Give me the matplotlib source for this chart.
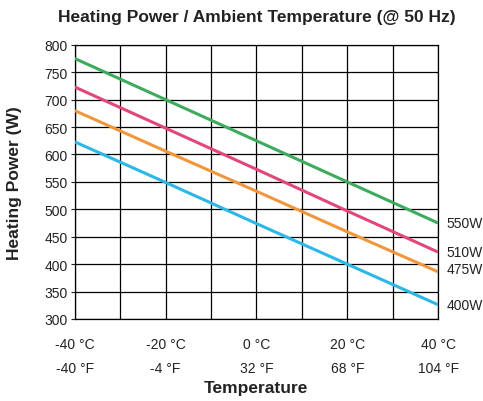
import matplotlib.pyplot as plt

plt.rcParams['font.family'] = ['Liberation Sans Narrow', 'Liberation Sans', 'DejaVu Sans']

# temperature in deg C and heating power (W) per heater model
temps = [-40, -20, 0, 20, 40]
p550 = [775, 700, 625, 550, 475]
p510 = [723, 648, 573, 497, 422]
p475 = [680, 606, 533, 459, 386]
p400 = [623, 549, 474, 400, 326]

series = [('550W', p550, '#3cab5e', 0),
          ('510W', p510, '#e2467c', 0),
          ('475W', p475, '#f2963c', 2),
          ('400W', p400, '#2bb7e8', 0)]

tick_c = [-40, -20, 0, 20, 40]
tick_labels = ['-40 °C\n-40 °F', '-20 °C\n-4 °F', '0 °C\n32 °F', '20 °C\n68 °F', '40 °C\n104 °F']

fig = plt.figure(figsize=(4.83, 4.02), dpi=100)
ax = fig.add_axes([0.155, 0.204, 0.752, 0.682])

for name, vals, col, dy in series:
    ax.plot(temps, vals, color=col, linewidth=2.2, solid_capstyle='butt', zorder=3)
    ax.annotate(name, xy=(temps[-1], vals[-1]), xytext=(6, dy), textcoords='offset points',
                va='center', ha='left', fontsize=10, color='#222222', annotation_clip=False)

ax.set_xlim(-40, 40)
ax.set_ylim(300, 800)
ax.set_xticks(tick_c)
ax.set_xticks(range(-30, 40, 20), minor=True)
ax.set_xticklabels(tick_labels, fontsize=10, color='#222222', linespacing=1.9)
ax.set_yticks(range(300, 801, 50))
ax.tick_params(axis='y', labelsize=10, colors='#222222', length=3, pad=2)
ax.tick_params(axis='x', which='both', length=0, pad=13)
ax.grid(True, which='both', color='black', linewidth=0.9)
for s in ax.spines.values():
    s.set_color('black')
    s.set_linewidth(0.9)

ax.set_title('Heating Power / Ambient Temperature (@ 50 Hz)', fontsize=12.5,
             fontweight='bold', color='#222222', pad=17)
fig.text(0.53, 1 - 389 / 402, 'Temperature', ha='center', va='center',
         fontsize=12.5, fontweight='bold', color='#222222')
ax.set_ylabel('Heating Power (W)', fontsize=12.5, fontweight='bold', color='#222222', labelpad=16)

plt.savefig('out.png', dpi=100)
